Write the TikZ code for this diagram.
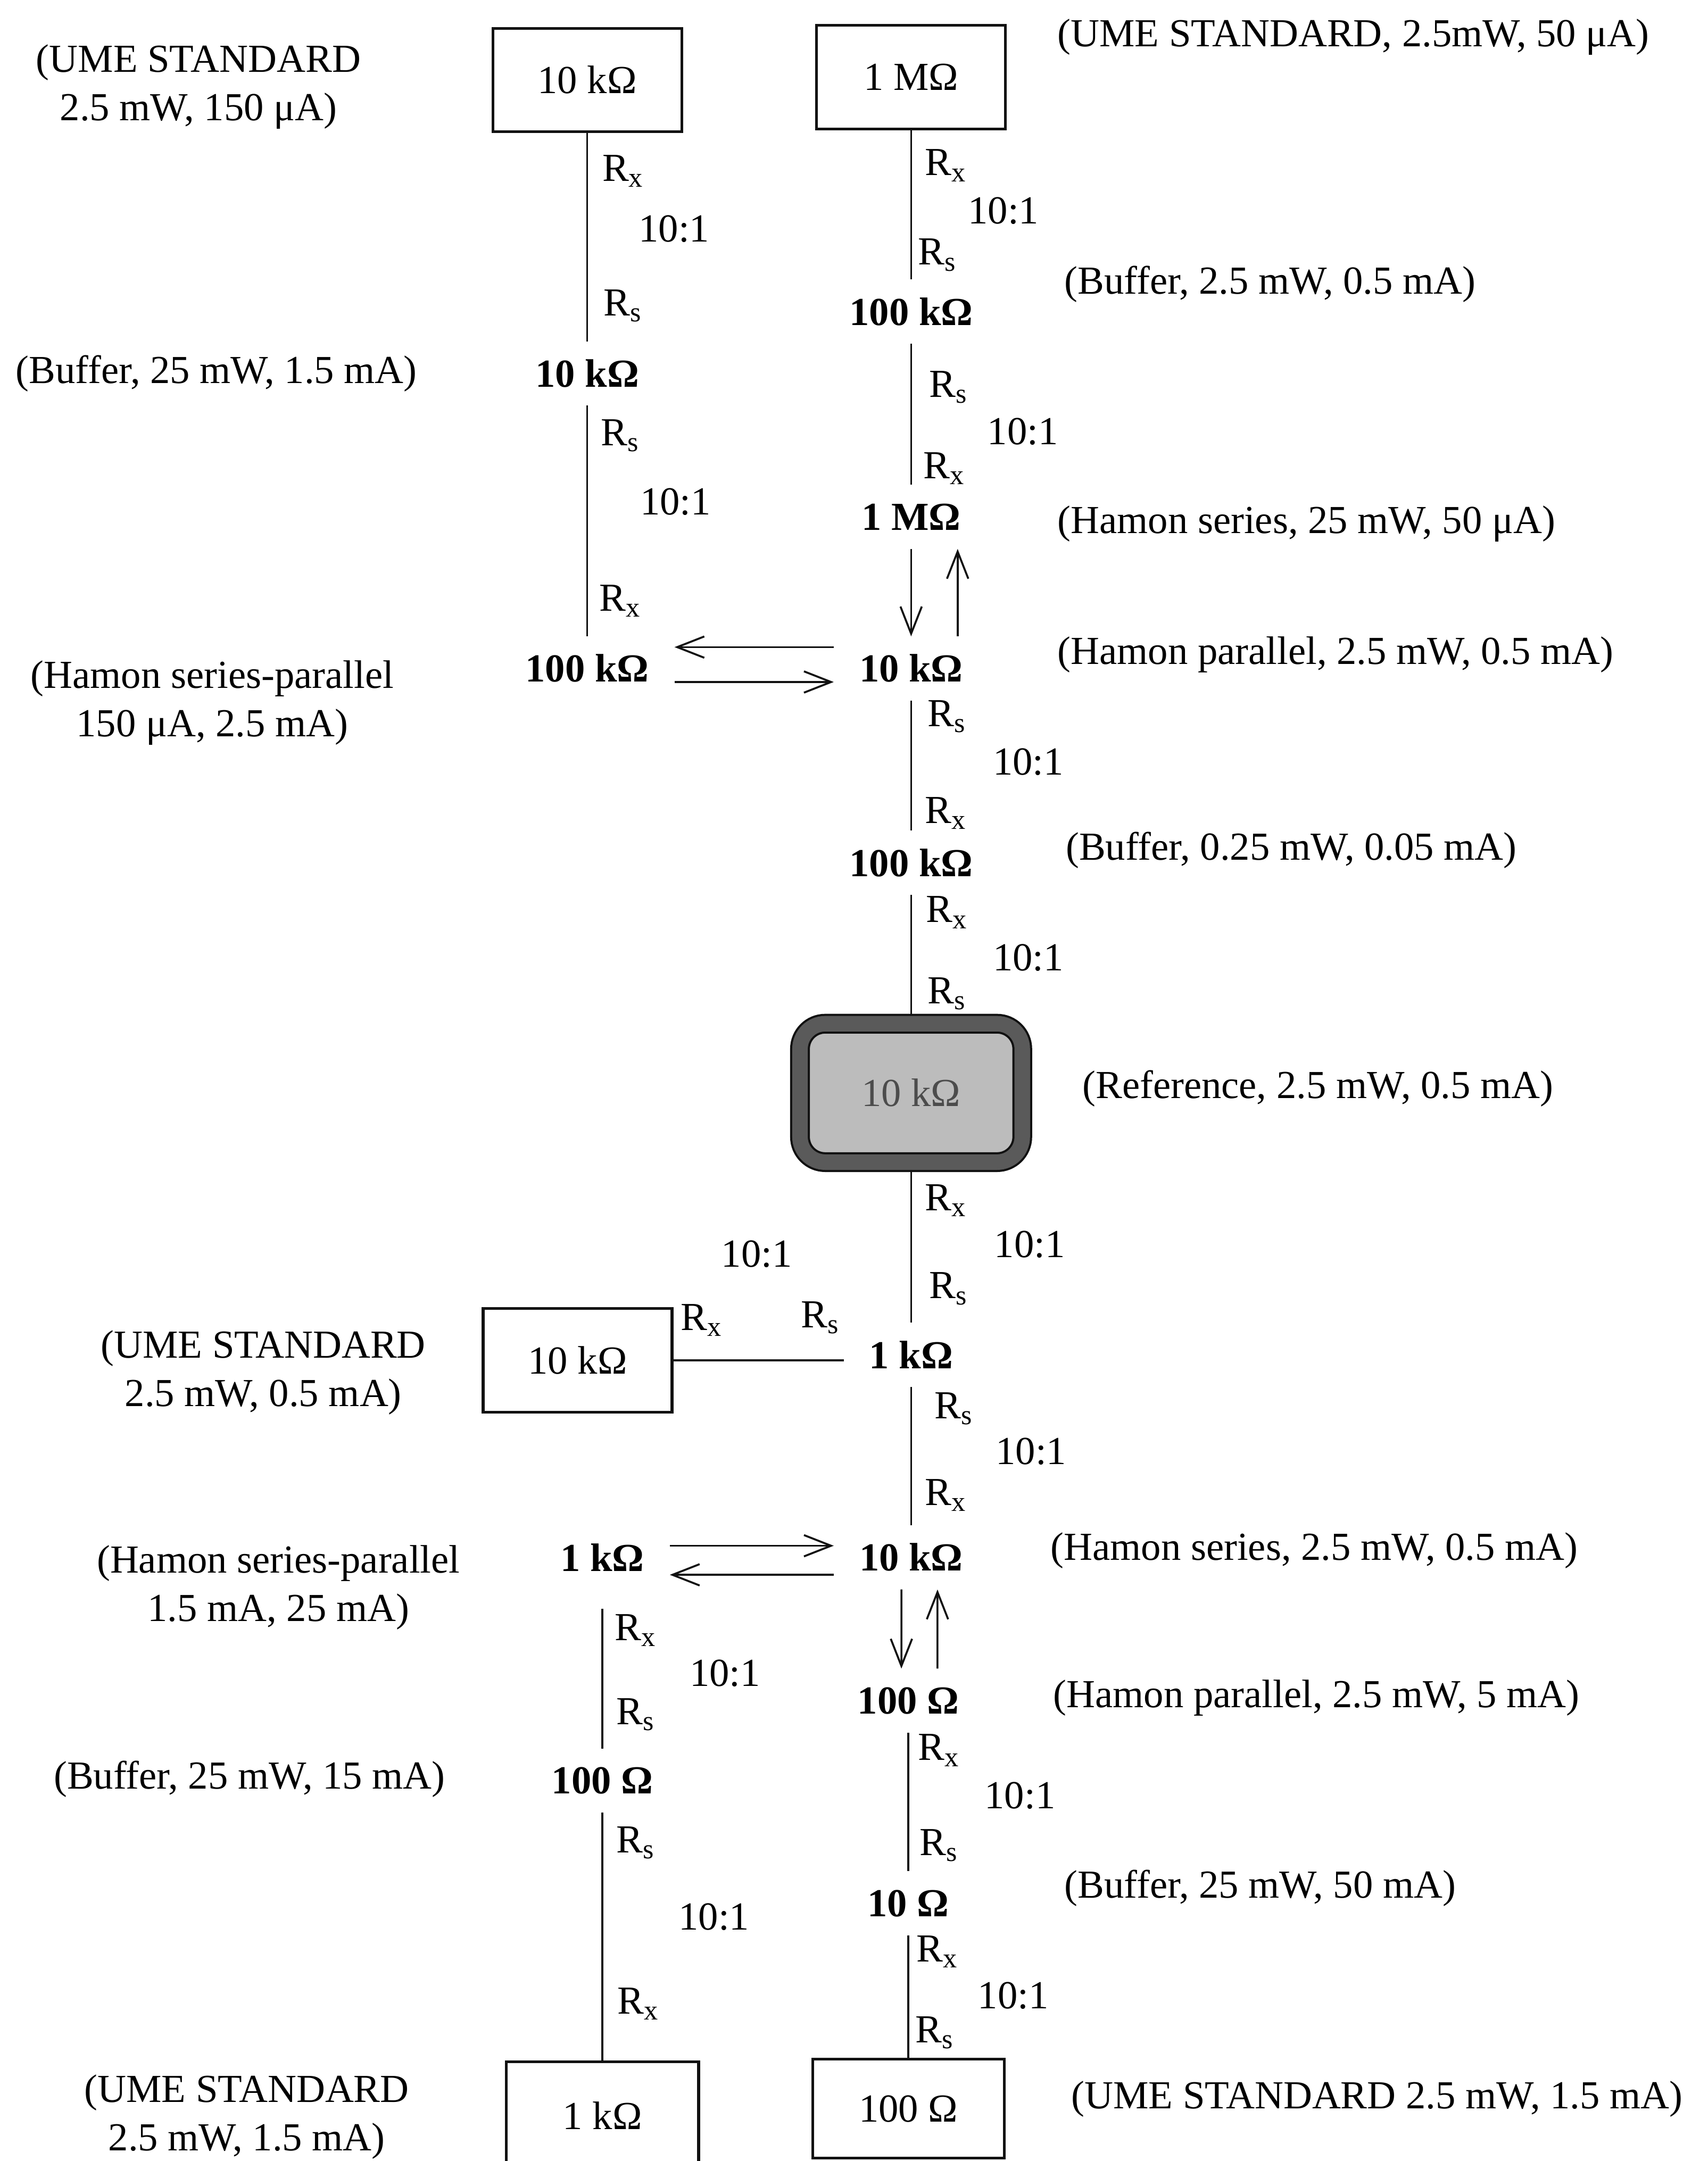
\documentclass[tikz,border=0pt]{standalone}
\usepackage{fontspec}
\setmainfont{Liberation Serif}
\usepackage{xcolor}
\usetikzlibrary{arrows.meta,positioning}
\definecolor{Ink}{HTML}{111111}
\definecolor{RefBand}{HTML}{5A5A5A}
\definecolor{RefFill}{HTML}{BCBCBC}
\newcommand{\Rsub}[1]{R\textsubscript{#1}}

\begin{document}
\begin{tikzpicture}[
  x=0.025cm, y=-0.025cm,
  font=\fontsize{20.5pt}{25pt}\selectfont,
  stdbox/.style={draw=Ink, line width=1.4pt, minimum width=3.425cm, minimum height=1.875cm, inner sep=0pt},
  refbox/.style={draw=Ink, line width=1.1pt, double=RefBand, double distance=8pt, fill=RefFill, rounded corners=13pt, minimum width=4.03cm, minimum height=2.51cm, outer sep=5.1pt, text=black!70},
  val/.style={font=\fontsize{20.5pt}{25pt}\selectfont\bfseries, inner xsep=13pt, inner ysep=2pt, minimum height=1.15cm},
  lbl/.style={inner sep=1pt},
  ratiotxt/.style={inner sep=1pt},
  note/.style={align=center, inner sep=1pt},
  rnote/.style={anchor=west, inner sep=0pt},
  link/.style={line width=1pt, draw=Ink},
  arr/.style={-{Straight Barb[length=14pt, width=11pt]}, line width=1pt, draw=Ink}
]
  \path[use as bounding box, fill=white] (0,0) rectangle (1239,1568);

  % left upper chain
  \node[stdbox] (tlbox) at (426,58) {10 kΩ};
  \node[lbl] (tlrx1) at (452,124) {\Rsub{x}};
  \node[ratiotxt] (tlq1) at (489,166) {10:1};
  \node[lbl] (tlrs1) at (452,222) {\Rsub{s}};
  \node[val] (tlv1) at (426,271) {10 kΩ};
  \node[lbl] (tlrs2) at (450,316) {\Rsub{s}};
  \node[ratiotxt] (tlq2) at (490,364) {10:1};
  \node[lbl] (tlrx2) at (450,436) {\Rsub{x}};
  \node[val] (tlv2) at (426,485) {100 kΩ};

  % right upper chain
  \node[stdbox] (trbox) at (661,56) {1 MΩ};
  \node[lbl] (trrx1) at (686,120) {\Rsub{x}};
  \node[ratiotxt] (trq1) at (728,153) {10:1};
  \node[lbl] (trrs1) at (680,185) {\Rsub{s}};
  \node[val] (trv1) at (661,226) {100 kΩ};
  \node[lbl] (trrs2) at (688,281) {\Rsub{s}};
  \node[ratiotxt] (trq2) at (742,313) {10:1};
  \node[lbl] (trrx2) at (685,340) {\Rsub{x}};
  \node[val] (trv2) at (661,375) {1 MΩ};
  \node[val] (trv3) at (661,485) {10 kΩ};
  \node[lbl] (trrs3) at (687,520) {\Rsub{s}};
  \node[ratiotxt] (trq3) at (746,553) {10:1};
  \node[lbl] (trrx3) at (686,590) {\Rsub{x}};
  \node[val] (trv4) at (661,626) {100 kΩ};
  \node[lbl] (trrx4) at (687,662) {\Rsub{x}};
  \node[ratiotxt] (trq4) at (746,695) {10:1};
  \node[lbl] (trrs4) at (687,721) {\Rsub{s}};

  % reference
  \node[refbox] (ref) at (661,793) {10 kΩ};

  % middle chain
  \node[lbl] (mrx1) at (686,871) {\Rsub{x}};
  \node[ratiotxt] (mq1) at (747,903) {10:1};
  \node[lbl] (mrs1) at (688,935) {\Rsub{s}};
  \node[val] (mv1) at (661,983) {1 kΩ};
  \node[stdbox] (mlbox) at (419,987) {10 kΩ};
  \node[lbl] (mlrx) at (509,958) {\Rsub{x}};
  \node[lbl] (mlrs) at (595,956) {\Rsub{s}};
  \node[ratiotxt] (mlq) at (549,910) {10:1};
  \node[lbl] (mrs2) at (692,1022) {\Rsub{s}};
  \node[ratiotxt] (mq2) at (748,1053) {10:1};
  \node[lbl] (mrx2) at (686,1085) {\Rsub{x}};
  \node[val] (mv2) at (661,1130) {10 kΩ};

  % lower left chain
  \node[val] (lv1) at (437,1130) {1 kΩ};
  \node[lbl] (lrx1) at (461,1183) {\Rsub{x}};
  \node[ratiotxt] (lq1) at (526,1214) {10:1};
  \node[lbl] (lrs1) at (461,1244) {\Rsub{s}};
  \node[val] (lv2) at (437,1292) {100 Ω};
  \node[lbl] (lrs2) at (461,1337) {\Rsub{s}};
  \node[ratiotxt] (lq2) at (518,1391) {10:1};
  \node[lbl] (lrx2) at (463,1454) {\Rsub{x}};
  \node[stdbox, minimum width=3.49cm, minimum height=1.95cm] (blbox) at (437,1535) {1 kΩ};

  % lower right chain
  \node[val] (bv1) at (659,1234) {100 Ω};
  \node[lbl] (brx1) at (681,1270) {\Rsub{x}};
  \node[ratiotxt] (bq1) at (740,1303) {10:1};
  \node[lbl] (brs1) at (681,1339) {\Rsub{s}};
  \node[val] (bv2) at (659,1381) {10 Ω};
  \node[lbl] (brx2) at (680,1416) {\Rsub{x}};
  \node[ratiotxt] (bq2) at (735,1448) {10:1};
  \node[lbl] (brs2) at (678,1475) {\Rsub{s}};
  \node[stdbox, minimum width=3.475cm, minimum height=1.8cm] (brbox) at (659,1530) {100 Ω};

  % notes, left
  \node[note] (nl1) at (144,63) {(UME STANDARD\\2.5 mW, 150 μA)};
  \node[note] (nl2) at (157,271) {(Buffer, 25 mW, 1.5 mA)};
  \node[note] (nl3) at (154,510) {(Hamon series-parallel\\150 μA, 2.5 mA)};
  \node[note] (nl4) at (191,996) {(UME STANDARD\\2.5 mW, 0.5 mA)};
  \node[note] (nl5) at (202,1152) {(Hamon series-parallel\\1.5 mA, 25 mA)};
  \node[note] (nl6) at (181,1291) {(Buffer, 25 mW, 15 mA)};
  \node[note] (nl7) at (179,1536) {(UME STANDARD\\2.5 mW, 1.5 mA)};

  % notes, right
  \node[rnote] (nr1) at (767,27) {(UME STANDARD, 2.5mW, 50 μA)};
  \node[rnote] (nr2) at (772,206) {(Buffer, 2.5 mW, 0.5 mA)};
  \node[rnote] (nr3) at (767,380) {(Hamon series, 25 mW, 50 μA)};
  \node[rnote] (nr4) at (767,475) {(Hamon parallel, 2.5 mW, 0.5 mA)};
  \node[rnote] (nr5) at (773,617) {(Buffer, 0.25 mW, 0.05 mA)};
  \node[rnote] (nr6) at (785,790) {(Reference, 2.5 mW, 0.5 mA)};
  \node[rnote] (nr7) at (762,1125) {(Hamon series, 2.5 mW, 0.5 mA)};
  \node[rnote] (nr8) at (764,1232) {(Hamon parallel, 2.5 mW, 5 mA)};
  \node[rnote] (nr9) at (772,1370) {(Buffer, 25 mW, 50 mA)};
  \node[rnote] (nr10) at (777,1523) {(UME STANDARD 2.5 mW, 1.5 mA)};

  % connectors
  \draw[link] (tlbox.south) -- (tlv1.north);
  \draw[link] (tlv1.south) -- (tlv2.north);
  \draw[link] (trbox.south) -- (trv1.north);
  \draw[link] (trv1.south) -- (trv2.north);
  \draw[arr] (trv2.south) -- (trv3.north);
  \draw[arr] ([xshift=24pt]trv3.north) -- ([xshift=24pt]trv2.south);
  \draw[arr] ([yshift=11pt]trv3.west) -- ([yshift=11pt]tlv2.east);
  \draw[arr] ([yshift=-7pt]tlv2.east) -- ([yshift=-7pt]trv3.west);
  \draw[link] (trv3.south) -- (trv4.north);
  \draw[link] (trv4.south) -- (ref.north);
  \draw[link] (ref.south) -- (mv1.north);
  \draw[link] (mlbox.east) -- (mlbox.east -| mv1.west);
  \draw[link] (mv1.south) -- (mv2.north);
  \draw[arr] ([yshift=6pt]lv1.east) -- ([yshift=6pt]mv2.west);
  \draw[arr] ([yshift=-9pt]mv2.west) -- ([yshift=-9pt]lv1.east);
  \draw[arr] ([xshift=-5pt]mv2.south) -- ([xshift=-3.6pt]bv1.north);
  \draw[arr] ([xshift=15pt]bv1.north) -- ([xshift=13.6pt]mv2.south);
  \draw[link, shorten <=10pt] (lv1.south) -- (lv2.north);
  \draw[link] (lv2.south) -- (blbox.north);
  \draw[link] (bv1.south) -- (bv2.north);
  \draw[link] (bv2.south) -- (brbox.north);
\end{tikzpicture}
\end{document}
